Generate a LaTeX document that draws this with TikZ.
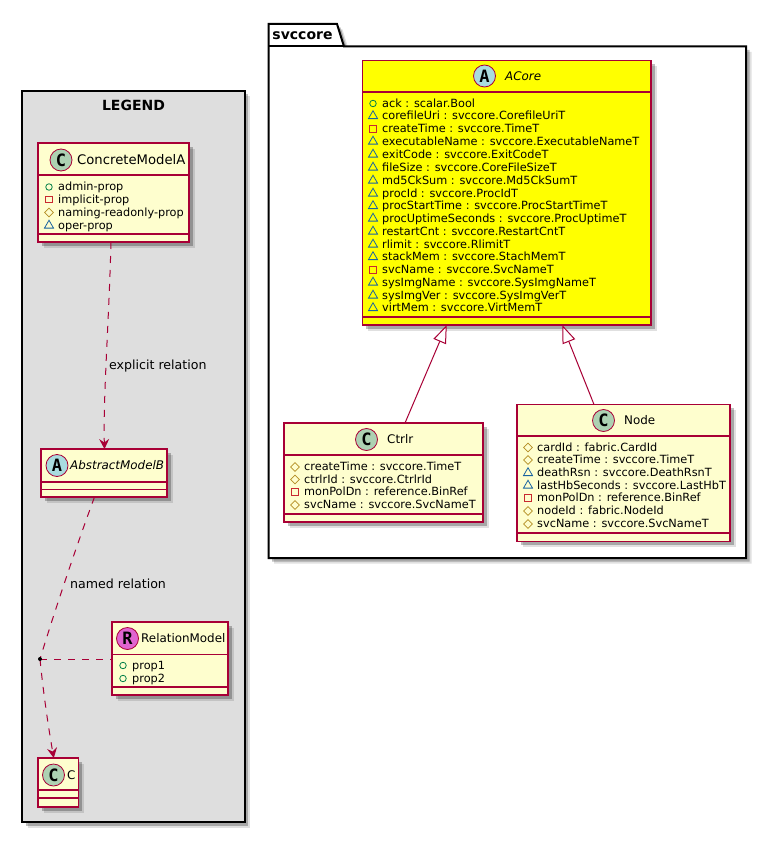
\documentclass[tikz,border=0pt]{standalone}
\usepackage{fontspec}
\setmainfont{DejaVu Sans}
\newfontfamily\spotfont{DejaVu Sans Mono}
\usetikzlibrary{arrows.meta,shadows,shapes.geometric}
\definecolor{umlred}{HTML}{A80036}
\definecolor{umlbox}{HTML}{FEFECE}
\definecolor{umlyellow}{HTML}{FFFF00}
\definecolor{umlgreen}{HTML}{038048}
\definecolor{umlpriv}{HTML}{C82930}
\definecolor{umlprot}{HTML}{B38D22}
\definecolor{umlpkg}{HTML}{1963A0}
\definecolor{spotc}{HTML}{ADD1B2}
\definecolor{spota}{HTML}{A9DCDF}
\definecolor{spotr}{HTML}{E064D0}
\tikzset{
  umlshadow/.style={drop shadow={shadow xshift=5.5pt,shadow yshift=-5.5pt,opacity=0.12,fill=black},
    drop shadow={shadow xshift=3.5pt,shadow yshift=-3.5pt,opacity=0.25,fill=black}},
  classbox/.style={draw=umlred,fill=umlbox,line width=1.1pt,anchor=north west,inner sep=0pt,outer sep=0pt,umlshadow},
  classrule/.style={draw=umlred,line width=1.1pt},
  frame/.style={draw=black,line width=2pt,umlshadow},
  spot/.style={circle,draw=umlred,line width=0.8pt,minimum size=22pt,inner sep=0pt,font=\spotfont\bfseries\fontsize{17}{17}\selectfont},
  classname/.style={anchor=west,inner sep=0pt,font=\fontsize{11.9}{14}\selectfont},
  member/.style={anchor=west,inner sep=0pt,text height=8pt,text depth=0.5pt,font=\fontsize{11.3}{13}\selectfont},
  pub/.style={circle,draw=umlgreen,line width=0.8pt,minimum size=6.5pt,inner sep=0pt},
  priv/.style={rectangle,draw=umlpriv,line width=0.8pt,minimum size=6.5pt,inner sep=0pt},
  prot/.style={diamond,draw=umlprot,line width=0.8pt,minimum size=9pt,inner sep=0pt},
  pkg/.style={regular polygon,regular polygon sides=3,draw=umlpkg,line width=0.8pt,minimum size=10.5pt,inner sep=0pt},
  relation/.style={draw=umlred,line width=1pt,dash pattern=on 7pt off 7pt},
  depends/.style={relation,-{Stealth[length=10pt,width=10pt,inset=3.5pt,umlred]}},
  extends/.style={draw=umlred,line width=1pt,-{Triangle[open,fill=white,length=18pt,width=13.5pt,umlred]}},
  rellabel/.style={anchor=west,inner sep=0pt,font=\fontsize{12.6}{14}\selectfont},
  frametitle/.style={inner sep=0pt,font=\bfseries\fontsize{14}{16}\selectfont}
}
\begin{document}
\begin{tikzpicture}[x=1pt,y=-1pt]
\useasboundingbox (0,0) rectangle (779,848);
% legend frame
\node[frame,fill=black!13,anchor=north west,minimum width=222.5pt,minimum height=731pt,inner sep=0pt,outer sep=0pt] (legend) at (22,91) {};
\node[frametitle] (legendtitle) at (133.5,105) {LEGEND};
% package frame
\draw[frame,fill=white] (268.5,46.5) -- (268.5,24) -- (337,24) -- (344,46.5) -- (746,46.5) -- (746,558) -- (268.5,558) -- cycle;
\draw[draw=black,line width=2pt] (268.5,46.5) -- (344,46.5);
\node[frametitle] (pkgtitle) at (302.5,36) {svccore};

% legend classes
\node[classbox,minimum width=151pt,minimum height=99pt] (concrete) at (38,143) {};
\draw[classrule] (concrete.west |- 0,175) -- (concrete.east |- 0,175);
\draw[classrule] (concrete.west |- 0,234) -- (concrete.east |- 0,234);
\node[spot,fill=spotc] (concretespot) at (61,160) {C};
\node[classname,font=\fontsize{13.2}{14}\selectfont] (concretename) at (77,160) {ConcreteModelA};
\foreach \y/\k/\t in {187/pub/admin-prop,199.5/priv/implicit-prop,212.5/prot/naming-readonly-prop,225.5/pkg/oper-prop}{
  \node[\k] (concreteicon\y) at (49,\y) {};
  \node[member] (concretemem\y) at (58,\y) {\t};
}
\node[classbox,minimum width=126pt,minimum height=48pt] (abstract) at (41,449) {};
\draw[classrule] (abstract.west |- 0,482) -- (abstract.east |- 0,482);
\draw[classrule] (abstract.west |- 0,489.5) -- (abstract.east |- 0,489.5);
\node[spot,fill=spota] (abstractspot) at (57,465.5) {A};
\node[classname,font=\itshape\fontsize{11.9}{14}\selectfont] (abstractname) at (70,465.5) {AbstractModelB};

\node[classbox,minimum width=116pt,minimum height=73pt] (relmodel) at (112,622) {};
\draw[classrule] (relmodel.west |- 0,654.5) -- (relmodel.east |- 0,654.5);
\draw[classrule] (relmodel.west |- 0,687) -- (relmodel.east |- 0,687);
\node[spot,fill=spotr] (relmodelspot) at (127.5,638.5) {R};
\node[classname] (relmodelname) at (141,638.5) {RelationModel};
\foreach \y/\k/\t in {665.5/pub/prop1,678.5/pub/prop2}{
  \node[\k] (relmodelicon\y) at (123,\y) {};
  \node[member] (relmodelmem\y) at (132,\y) {\t};
}
\node[classbox,minimum width=40.5pt,minimum height=49pt] (cclass) at (38,758) {};
\draw[classrule] (cclass.west |- 0,790) -- (cclass.east |- 0,790);
\draw[classrule] (cclass.west |- 0,798) -- (cclass.east |- 0,798);
\node[spot,fill=spotc] (cclassspot) at (53.5,775) {C};
\node[classname] (cclassname) at (67,775) {C};

% legend relations
\coordinate (joint) at (40,659);
\draw[depends] ([xshift=-2.5pt]concrete.south) .. controls (109,320) and (103,400) .. ([xshift=0.5pt]abstract.north);
\node[rellabel] (explicitlabel) at (109,366) {explicit relation};
\draw[relation] ([xshift=-9.5pt]abstract.south) .. controls (75,550) and (55,610) .. (joint);
\node[rellabel] (namedlabel) at (70,584) {named relation};
\draw[depends] (joint) .. controls (43,690) and (48,725) .. ([xshift=-4.5pt]cclass.north);
\draw[relation] (joint) -- (relmodel.west |- joint);
\fill[black] (joint) circle (2pt);

% svccore classes
\node[classbox,fill=umlyellow,minimum width=288.5pt,minimum height=264.5pt] (acore) at (362.5,60.5) {};
\draw[classrule] (acore.west |- 0,92) -- (acore.east |- 0,92);
\draw[classrule] (acore.west |- 0,317) -- (acore.east |- 0,317);
\node[spot,fill=spota] (acorespot) at (484.5,76) {A};
\node[classname,font=\itshape\fontsize{11.9}{14}\selectfont] (acorename) at (505,76) {ACore};
\foreach \y/\k/\t in {103.5/pub/ack : scalar.Bool,
  116/pkg/corefileUri : svccore.CorefileUriT,
  129/priv/createTime : svccore.TimeT,
  141.5/pkg/executableName : svccore.ExecutableNameT,
  154.5/pkg/exitCode : svccore.ExitCodeT,
  167.5/pkg/fileSize : svccore.CoreFileSizeT,
  180.5/pkg/md5CkSum : svccore.Md5CkSumT,
  193.5/pkg/procId : svccore.ProcIdT,
  206/pkg/procStartTime : svccore.ProcStartTimeT,
  218.5/pkg/procUptimeSeconds : svccore.ProcUptimeT,
  231.5/pkg/restartCnt : svccore.RestartCntT,
  244.5/pkg/rlimit : svccore.RlimitT,
  257/pkg/stackMem : svccore.StachMemT,
  270/priv/svcName : svccore.SvcNameT,
  282.5/pkg/sysImgName : svccore.SysImgNameT,
  295.5/pkg/sysImgVer : svccore.SysImgVerT,
  308/pkg/virtMem : svccore.VirtMemT}{
  \node[\k] (acoreicon\y) at (373,\y) {};
  \node[member] (acoremem\y) at (382,\y) {\t};
}
\node[classbox,minimum width=199pt,minimum height=99pt] (ctrlr) at (284,423) {};
\draw[classrule] (ctrlr.west |- 0,455) -- (ctrlr.east |- 0,455);
\draw[classrule] (ctrlr.west |- 0,514) -- (ctrlr.east |- 0,514);
\node[spot,fill=spotc] (ctrlrspot) at (366.5,439.5) {C};
\node[classname] (ctrlrname) at (387,439.5) {Ctrlr};
\foreach \y/\k/\t in {467/prot/createTime : svccore.TimeT,
  479.5/prot/ctrlrId : svccore.CtrlrId,
  492/priv/monPolDn : reference.BinRef,
  505/prot/svcName : svccore.SvcNameT}{
  \node[\k] (ctrlricon\y) at (295,\y) {};
  \node[member] (ctrlrmem\y) at (304,\y) {\t};
}
\node[classbox,minimum width=213pt,minimum height=137pt] (node) at (517,404.5) {};
\draw[classrule] (node.west |- 0,436) -- (node.east |- 0,436);
\draw[classrule] (node.west |- 0,533) -- (node.east |- 0,533);
\node[spot,fill=spotc] (nodespot) at (603.5,420.5) {C};
\node[classname] (nodename) at (624,420.5) {Node};
\foreach \y/\k/\t in {447.5/prot/cardId : fabric.CardId,
  460/prot/createTime : svccore.TimeT,
  473/pkg/deathRsn : svccore.DeathRsnT,
  485.5/pkg/lastHbSeconds : svccore.LastHbT,
  498/priv/monPolDn : reference.BinRef,
  511/prot/nodeId : fabric.NodeId,
  524/prot/svcName : svccore.SvcNameT}{
  \node[\k] (nodeicon\y) at (528,\y) {};
  \node[member] (nodemem\y) at (537,\y) {\t};
}

% inheritance
\draw[extends] ([xshift=21.5pt]ctrlr.north) -- ([xshift=-60pt]acore.south);
\draw[extends] ([xshift=-29.5pt]node.north) -- ([xshift=55.5pt]acore.south);
\end{tikzpicture}
\end{document}
